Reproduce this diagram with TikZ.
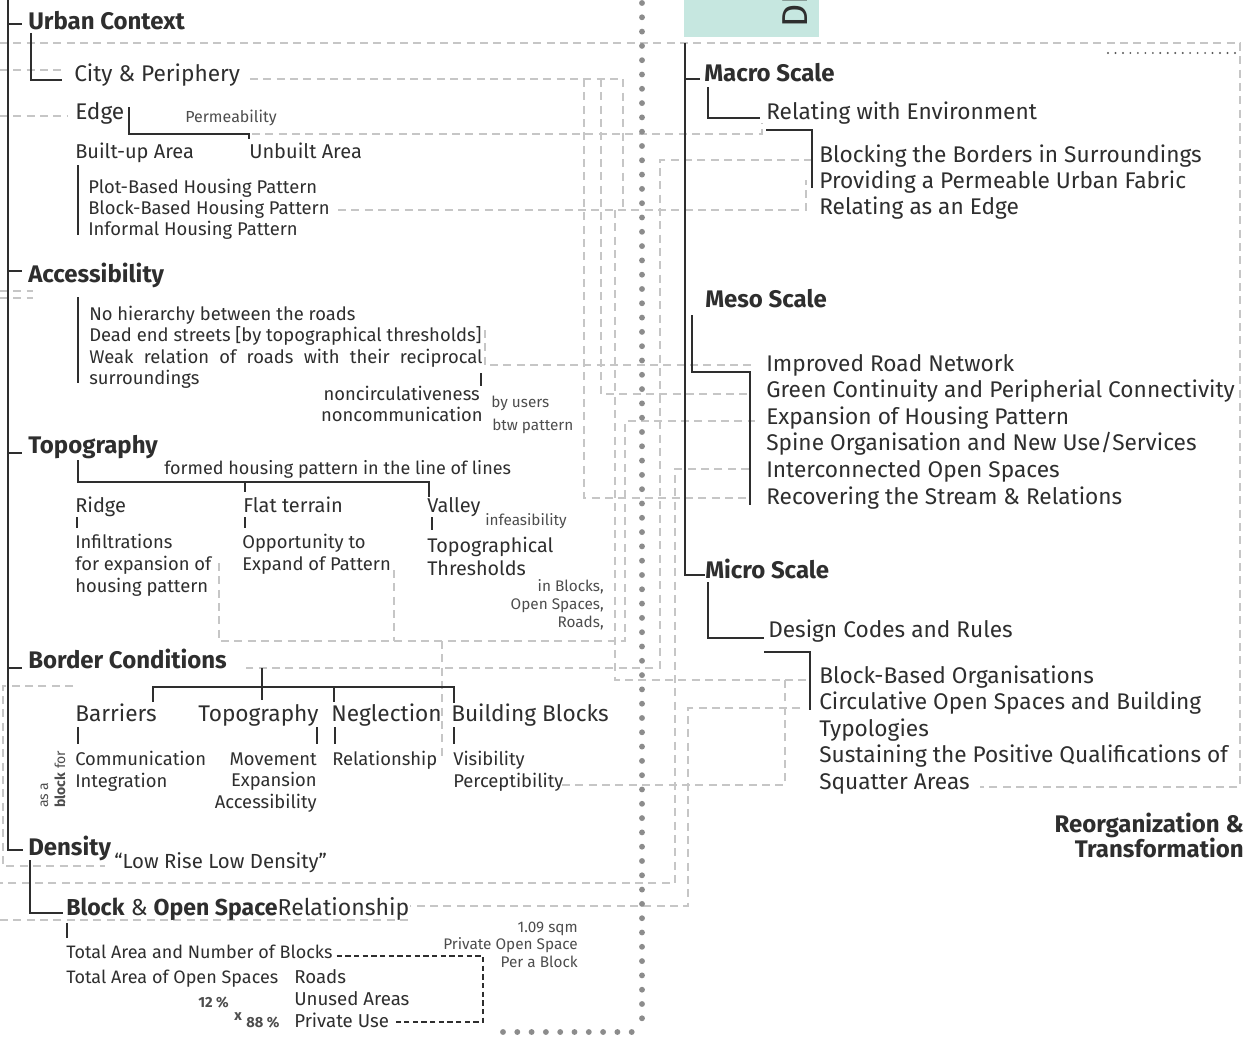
\documentclass[tikz,border=0pt]{standalone}
\usepackage{fontspec}
\setmainfont{Fira Sans}
\definecolor{ink}{HTML}{2E2E2E}
\definecolor{linkgray}{HTML}{C6C6C6}
\definecolor{dotgray}{HTML}{8C8C8C}
\definecolor{mint}{HTML}{C6E7E0}
\tikzset{
  head/.style={anchor=base west,inner sep=0,text=ink,font=\bfseries\fontsize{18}{20}\selectfont},
  big/.style={anchor=base west,inner sep=0,text=ink,font=\fontsize{17}{20}\selectfont},
  mid/.style={anchor=base west,inner sep=0,text=ink,font=\fontsize{13.8}{16}\selectfont},
  note/.style={anchor=base west,inner sep=0,text=ink!85,font=\fontsize{11.5}{13}\selectfont},
  conn/.style={draw=ink,line width=1.4pt},
  bar/.style={draw=ink,line width=2pt},
  link/.style={draw=linkgray,line width=1pt,dash pattern=on 6pt off 4pt},
}
\begin{document}
\begin{tikzpicture}[x=0.75pt,y=-0.75pt]
\useasboundingbox (0,0) rectangle (1248,1049);
% grey links between the two columns
\draw[link] (0,43)--(1240,43)--(1240,787)--(980,787);
\draw[link] (0,70)--(65,70); \draw[link] (0,116)--(68,116);
\draw[link] (0,291)--(33,291); \draw[link] (0,298)--(33,298);
\draw[link] (250,79)--(623,79)--(623,210);
\draw[link] (338,210)--(806,210)--(806,180);
\draw[link] (584,79)--(584,498)--(749,498);
\draw[link] (601,79)--(601,394)--(749,394);
\draw[link] (252,134)--(762,134)--(762,123);
\draw[link] (812,160)--(660,160)--(660,668)--(246,668);
\draw[link] (615,210)--(615,680)--(809,680);
\draw[link] (485,330)--(485,365)--(755,365);
\draw[link] (219,563)--(219,641)--(625,641)--(625,421)--(755,421);
\draw[link] (394,570)--(394,641); \draw[link] (442,641)--(442,760);
\draw[link] (749,469)--(675,469)--(675,883)--(0,883);
\draw[link] (800,708)--(688,708)--(688,906)--(410,906);
\draw[link] (562,785)--(785,785)--(785,680);
\draw[link] (0,920)--(408,920);
\draw[link] (73,686)--(3,686)--(3,866)--(105,866);
% dotted divider
\foreach \i in {0,...,71} {\fill[dotgray] (642,3+14.3*\i) circle (2.2pt);}
\foreach \i in {0,...,9} {\fill[dotgray] (503+14.3*\i,1032) circle (2.2pt);}
\draw[ink!80,line width=1.6pt,dash pattern=on 0pt off 5.6pt,line cap=round] (1108,53)--(1241,53);
\fill[mint] (684,0) rectangle (819,37);
\node[rotate=90,anchor=base west,inner sep=0,text=ink,font=\fontsize{27}{27}\selectfont] (design) at (807,28) {DE};
% left column
\draw[bar] (8,0)--(8,850)--(23,850);
\foreach \y in {24,271,453,668} {\draw[bar] (8,\y)--(22,\y);}
\node[head] (urban) at (28,30) {Urban Context};
\draw[conn] (31,33)--(31,80)--(62,80);
\node[big] (city) at (74,82) {City \& Periphery};
\node[big] (edge) at (75,119) {Edge};
\node[note,font=\fontsize{12}{13}\selectfont] (perm) at (185,122) {Permeability};
\draw[conn] (129,107)--(129,134)--(249,134)--(249,139);
\node[mid,font=\fontsize{15}{17}\selectfont] (built) at (75,158) {Built-up Area};
\node[mid,font=\fontsize{15}{17}\selectfont] (unbuilt) at (249,158) {Unbuilt Area};
\draw[conn] (78,165)--(78,235);
\foreach \t [count=\i] in {Plot-Based Housing Pattern,Block-Based Housing Pattern,Informal Housing Pattern}
  {\node[mid] (plot\i) at (88,{193+21*(\i-1)}) {\t};}
\node[head] (access) at (28,282) {Accessibility};
\draw[conn] (78,297)--(78,383);
\node[mid] (road1) at (89,320) {No hierarchy between the roads};
\node[mid] (road2) at (89,341) {Dead end streets [by topographical thresholds]};
\node[mid] (road3) at (89,363) {\hbox to 295pt{Weak\hfil relation\hfil of\hfil roads\hfil with\hfil their\hfil reciprocal}};
\node[mid] (road4) at (89,384) {surroundings};
\draw[conn,line width=2pt] (481,373)--(481,386);
\node[mid,anchor=base east] (noncirc) at (480,400) {noncirculativeness};
\node[mid,anchor=base east] (noncom) at (483,421) {noncommunication};
\node[note] (users) at (491,407) {by users};
\node[note] (btw) at (492,430) {btw pattern};
\node[head] (topo) at (28,453) {Topography};
\node[mid,font=\fontsize{13.5}{15}\selectfont] (formed) at (164,474) {formed housing pattern in the line of lines};
\draw[conn] (78,460)--(78,482)--(429,482)--(429,497); \draw[conn] (245,482)--(245,492);
\node[mid,font=\fontsize{15}{17}\selectfont] (ridge) at (75,512) {Ridge};
\node[mid,font=\fontsize{15}{17}\selectfont] (flat) at (243,512) {Flat terrain};
\node[mid,font=\fontsize{15}{17}\selectfont] (valley) at (427,512) {Valley};
\node[note] (infeas) at (485,525) {infeasibility};
\foreach \x/\b in {77/528,245/528,432/530} {\draw[conn] (\x,517)--(\x,\b);}
\foreach \t [count=\i] in {Infiltrations,for expansion of,housing pattern}
  {\node[mid] (ridge\i) at (75,{548+22*(\i-1)}) {\t};}
\node[mid] (flat1) at (242,548) {Opportunity to};
\node[mid] (flat2) at (242,570) {Expand of Pattern};
\node[mid,font=\fontsize{14.8}{17}\selectfont] (valley1) at (427,552) {Topographical};
\node[mid,font=\fontsize{14.8}{17}\selectfont] (valley2) at (427,575) {Thresholds};
\foreach \t [count=\i] in {{in Blocks,},{Open Spaces,},{Roads,}}
  {\node[note,anchor=base east] (where\i) at (604,{591+18*(\i-1)}) {\t};}
\node[head] (border) at (28,668) {Border Conditions};
\draw[conn] (262,668)--(262,700); \draw[conn] (153,702)--(153,687)--(454,687)--(454,703);
\draw[conn] (334,687)--(334,702);
\node[big] (barrier) at (75,721) {Barriers};
\node[big] (btopo) at (198,721) {Topography};
\node[big] (neglect) at (331,721) {Neglection};
\node[big] (bblock) at (451,721) {Building Blocks};
\foreach \x in {78,317,335,454} {\draw[conn] (\x,727)--(\x,744);}
\node[mid] (comm) at (75,765) {Communication};
\node[mid] (integ) at (75,787) {Integration};
\foreach \t [count=\i] in {Movement,Expansion,Accessibility}
  {\node[mid,anchor=base east] (move\i) at (317,{765+21.5*(\i-1)}) {\t};}
\node[mid] (relat) at (332,765) {Relationship};
\node[mid] (visib) at (453,765) {Visibility};
\node[mid] (percep) at (453,787) {Perceptibility};
\node[note,font=\fontsize{10.5}{12}\selectfont,rotate=90] (asa) at (48,808) {as a};
\node[note,font=\fontsize{10.5}{12}\selectfont,rotate=90] (blockfor) at (65,808) {\textbf{block} for};
\node[head] (density) at (28,855) {Density};
\node[mid,font=\fontsize{15.3}{17}\selectfont] (lowrise) at (114,868) {“Low Rise Low Density”};
\draw[conn] (30,860)--(30,913)--(63,913);
\node[big,font=\fontsize{17.3}{19}\selectfont] (bos) at (66,915) {\textbf{Block} \& \textbf{Open Space}Relationship};
\draw[conn] (67,923)--(67,938);
\node[mid,font=\fontsize{13.5}{16}\selectfont] (tot1) at (66,958) {Total Area and Number of Blocks};
\node[mid,font=\fontsize{13.5}{16}\selectfont] (tot2) at (66,983) {Total Area of Open Spaces};
\foreach \t [count=\i] in {Roads,Unused Areas,Private Use}
  {\node[mid,font=\fontsize{14}{16}\selectfont] (use\i) at (294,{983+22*(\i-1)}) {\t};}
\node[note,font=\bfseries\fontsize{11}{12}\selectfont] (p12) at (198,1007) {12 \%};
\node[note,font=\bfseries\fontsize{11}{12}\selectfont] (times) at (234,1020) {x};
\node[note,font=\bfseries\fontsize{11}{12}\selectfont] (p88) at (246,1027) {88 \%};
\draw[draw=ink,line width=1.2pt,dash pattern=on 4pt off 2.5pt] (tot1.east)++(4,0) coordinate (dstart) (dstart |- 0,956)--(483,956)--(483,1022)--(396,1022);
\foreach \t [count=\i] in {1.09 sqm,Private Open Space,Per a Block}
  {\node[note,anchor=base east] (sqm\i) at (578,{932+17.5*(\i-1)}) {\t};}
% right column
\draw[bar] (685,43)--(685,575)--(705,575); \draw[bar] (685,79)--(700,79);
\node[head] (macro) at (704,82) {Macro Scale};
\draw[conn] (708,87)--(708,118)--(760,118);
\node[big] (relenv) at (766,119) {Relating with Environment};
\draw[conn] (766,130)--(812,130)--(812,188);
\foreach \t [count=\i] in {Blocking the Borders in Surroundings,Providing a Permeable Urban Fabric,Relating as an Edge}
  {\node[big] (macro\i) at (819,{162+26*(\i-1)}) {\t};}
\node[head] (meso) at (705,307) {Meso Scale};
\draw[conn] (692,315)--(692,372)--(750,372)--(750,505);
\foreach \t [count=\i] in {Improved Road Network,Green Continuity and Peripherial Connectivity,Expansion of Housing Pattern,Spine Organisation and New Use/Services,Interconnected Open Spaces,Recovering the Stream \& Relations}
  {\node[big] (meso\i) at (766,{371+26.6*(\i-1)}) {\t};}
\node[head] (micro) at (705,578) {Micro Scale};
\draw[conn] (708,582)--(708,638)--(764,638);
\node[big] (codes) at (768,637) {Design Codes and Rules};
\draw[conn] (764,652)--(810,652)--(810,710);
\foreach \t [count=\i] in {Block-Based Organisations,Circulative Open Spaces and Building,Typologies,Sustaining the Positive Qualifications of,Squatter Areas}
  {\node[big] (micro\i) at (819,{683+26.5*(\i-1)}) {\t};}
\node[head,anchor=base east] (reorg) at (1244,832) {Reorganization \&};
\node[head,anchor=base east] (transf) at (1244,857) {Transformation};
\end{tikzpicture}
\end{document}
